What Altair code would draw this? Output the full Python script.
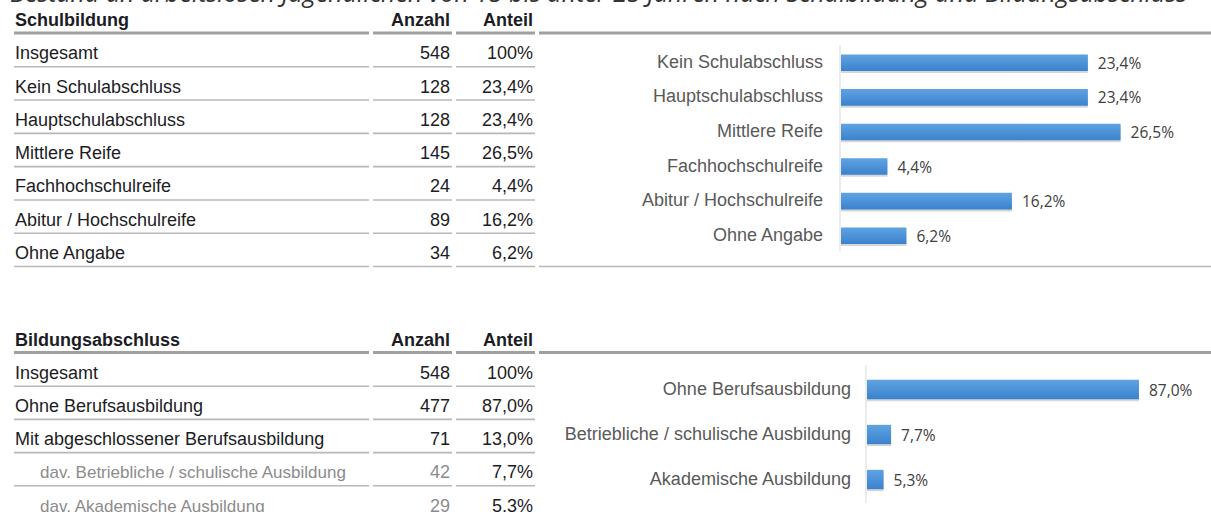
import altair as alt
import pandas as pd

# ---------------- data ----------------
title_text = ("Bestand an arbeitslosen Jugendlichen von 15 bis unter 25 Jahren "
              "nach Schulbildung und Bildungsabschluss")

t1_head = ["Schulbildung", "Anzahl", "Anteil"]
t1_labels = ["Insgesamt", "Kein Schulabschluss", "Hauptschulabschluss", "Mittlere Reife",
             "Fachhochschulreife", "Abitur / Hochschulreife", "Ohne Angabe"]
t1_anzahl = [548, 128, 128, 145, 24, 89, 34]
t1_anteil = [100, 23.4, 23.4, 26.5, 4.4, 16.2, 6.2]
t1_sub = [False] * 7

t2_head = ["Bildungsabschluss", "Anzahl", "Anteil"]
t2_labels = ["Insgesamt", "Ohne Berufsausbildung", "Mit abgeschlossener Berufsausbildung",
             "dav. Betriebliche / schulische Ausbildung", "dav. Akademische Ausbildung"]
t2_anzahl = [548, 477, 71, 42, 29]
t2_anteil = [100, 87.0, 13.0, 7.7, 5.3]
t2_sub = [False, False, False, True, True]

c1_cats = ["Kein Schulabschluss", "Hauptschulabschluss", "Mittlere Reife",
           "Fachhochschulreife", "Abitur / Hochschulreife", "Ohne Angabe"]
c1_vals = [23.4, 23.4, 26.5, 4.4, 16.2, 6.2]

c2_cats = ["Ohne Berufsausbildung", "Betriebliche / schulische Ausbildung",
           "Akademische Ausbildung"]
c2_vals = [87.0, 7.7, 5.3]

# ---------------- styles ----------------
TXT = "#1c1c24"
SUB = "#8c8c8c"
LINE = "#b8b8b8"
HLINE = "#a0a0a0"
TFONT = "Liberation Sans"
TSIZE = 18
SSIZE = 17
CSIZE = 18
VFONT = "Open Sans"


def pct(v):
    return "100%" if v == 100 else f"{v:.1f}".replace(".", ",") + "%"


def make_table(head, labels, anzahl, anteil, sub, y_range, bottom_line):
    n = len(labels)
    df = pd.DataFrame({
        "row": list(range(1, n + 1)),
        "label": labels,
        "anzahl": [str(a) for a in anzahl],
        "anteil": [pct(v) for v in anteil],
        "tone": ["sub" if s else "main" for s in sub],
    })
    hd = pd.DataFrame({"row": [0], "c0": [head[0]], "c1": [head[1]], "c2": [head[2]]})
    ys = alt.Scale(domain=[0, n], range=y_range, nice=False, zero=False)
    Y = alt.Y("row:Q", scale=ys, axis=None)
    tone = alt.Color("tone:N", scale=alt.Scale(domain=["main", "sub"], range=[TXT, SUB]), legend=None)

    base = alt.Chart(df)
    hbase = alt.Chart(hd)
    htxt = dict(font=TFONT, fontSize=TSIZE, fontWeight="bold", color=TXT, baseline="middle")
    layers = [
        hbase.mark_text(align="left", **htxt).encode(x=alt.value(15), y=Y, text="c0:N"),
        hbase.mark_text(align="right", **htxt).encode(x=alt.value(450), y=Y, text="c1:N"),
        hbase.mark_text(align="right", **htxt).encode(x=alt.value(533), y=Y, text="c2:N"),
        base.transform_filter("datum.tone == 'main'").mark_text(
            align="left", baseline="middle", font=TFONT, fontSize=TSIZE, color=TXT
        ).encode(x=alt.value(15), y=Y, text="label:N"),
        base.transform_filter("datum.tone == 'sub'").mark_text(
            align="left", baseline="middle", font=TFONT, fontSize=SSIZE, color=SUB
        ).encode(x=alt.value(40), y=Y, text="label:N"),
        base.mark_text(align="right", baseline="middle", font=TFONT, fontSize=TSIZE).encode(
            x=alt.value(450), y=Y, text="anzahl:N", color=tone),
        base.mark_text(align="right", baseline="middle", font=TFONT, fontSize=TSIZE, color=TXT).encode(
            x=alt.value(533), y=Y, text="anteil:N"),
    ]
    for a, b in [(14, 369), (373, 452), (456, 535), (539, 1211)]:
        layers.append(hbase.mark_rule(yOffset=12, strokeWidth=3, color=HLINE).encode(
            x=alt.value(a), x2=alt.value(b), y=Y))
    for a, b in [(14, 369), (373, 452), (456, 535)]:
        layers.append(base.mark_rule(yOffset=12.5, strokeWidth=1.6, color=LINE).encode(
            x=alt.value(a), x2=alt.value(b), y=Y))
    if bottom_line:
        layers.append(base.transform_filter(f"datum.row == {n}").mark_rule(
            yOffset=12.5, strokeWidth=1.6, color=LINE).encode(
            x=alt.value(539), x2=alt.value(1211), y=Y))
    return alt.layer(*layers)


GRAD = alt.Gradient(
    gradient="linear",
    stops=[alt.GradientStop(color="#5fa3e2", offset=0),
           alt.GradientStop(color="#3b82cd", offset=1)],
    x1=0, x2=0, y1=0, y2=1,
)


def make_bars(cats, vals, y_range, pin, x_dom, x_range, label_x, axis_x, axis_y):
    df = pd.DataFrame({"cat": cats, "val": vals, "txt": [pct(v) for v in vals]})
    xs = alt.Scale(domain=x_dom, range=x_range, nice=False, zero=True)
    ys = alt.Scale(range=y_range, paddingInner=pin, paddingOuter=pin / 2)
    X = alt.X("val:Q", scale=xs, axis=None)
    Y = alt.Y("cat:N", sort=cats, scale=ys, axis=None)
    base = alt.Chart(df)
    shadow = base.mark_bar(color="#8a8a8a", opacity=0.35, yOffset=2).encode(x=X, y=Y)
    bars = base.mark_bar(color=GRAD).encode(x=X, y=Y)
    vals_t = base.mark_text(align="left", baseline="middle", dx=10, dy=1, font=VFONT,
                            fontSize=15.5, color="#404040").encode(x=X, y=Y, text="txt:N")
    labs = base.mark_text(align="right", baseline="middle", font=TFONT,
                          fontSize=CSIZE, color="#595959").encode(
        x=alt.value(label_x), y=Y, text="cat:N")
    axis = base.transform_filter("datum.cat == '%s'" % cats[0]).mark_rule(
        color="#d9d9d9", strokeWidth=1).encode(
        x=alt.value(axis_x), y=alt.value(axis_y[0]), y2=alt.value(axis_y[1]))
    return alt.layer(shadow, bars, vals_t, labs, axis)


title = alt.Chart(pd.DataFrame({"t": [title_text]})).mark_text(
    align="left", baseline="alphabetic", font=VFONT, fontSize=25, fontStyle="italic",
    color="#333333").encode(x=alt.value(10), y=alt.value(2), text="t:N")

table1 = make_table(t1_head, t1_labels, t1_anzahl, t1_anteil, t1_sub, [21, 254], True)
table2 = make_table(t2_head, t2_labels, t2_anzahl, t2_anteil, t2_sub, [340.5, 506.5], False)
chart1 = make_bars(c1_cats, c1_vals, [45.5, 253], 0.52, [0, 30], [841, 841 + 30 * 10.55],
                   823, 840, (45, 252))
chart2 = make_bars(c2_cats, c2_vals, [367, 502], 0.57, [0, 100], [867, 867 + 100 * 3.126],
                   851, 866, (365, 503))

chart = alt.layer(title, table1, table2, chart1, chart2).resolve_scale(
    x="independent", y="independent", color="independent"
).properties(width=1211, height=512, padding=0, autosize="none").configure_view(stroke=None)

chart.save("out.html", embed_options={"renderer": "svg", "actions": False})
